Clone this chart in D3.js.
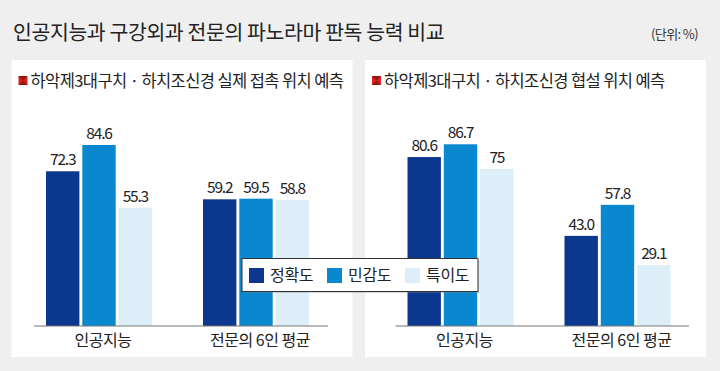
<!DOCTYPE html>
<html>
<head>
<meta charset="utf-8">
<script src="https://cdn.jsdelivr.net/npm/d3@7"></script>
<style>
  html, body { margin: 0; padding: 0; background: #efefef; }
  svg { display: block; font-family: "Noto Sans CJK KR", "Noto Sans", sans-serif; }
</style>
</head>
<body>
<svg id="chart" width="720" height="371"></svg>
<script>
// chart data
const TITLE = "인공지능과 구강외과 전문의 파노라마 판독 능력 비교";
const UNIT = "(단위: %)";
const categories = ["인공지능", "전문의 6인 평균"];
const series = ["정확도", "민감도", "특이도"];
const colors = ["#0b378f", "#0a88cf", "#ddeef9"];
const panelTitles = [
  "하악제3대구치 · 하치조신경 실제 접촉 위치 예측",
  "하악제3대구치 · 하치조신경 협설 위치 예측"
];
// values[category][series]
const contactValues = [[72.3, 84.6, 55.3], [59.2, 59.5, 58.8]];
const contactLabels = [["72.3", "84.6", "55.3"], ["59.2", "59.5", "58.8"]];
const sideValues = [[80.6, 86.7, 75], [43.0, 57.8, 29.1]];
const sideLabels = [["80.6", "86.7", "75"], ["43.0", "57.8", "29.1"]];

const svg = d3.select("#chart");
const BASE_Y = 326;

svg.append("text")
  .attr("x", 13).attr("y", 40)
  .attr("font-size", 20.5).attr("fill", "#222")
  .attr("letter-spacing", -0.4)
  .text(TITLE);

svg.append("text")
  .attr("x", 698).attr("y", 38.5)
  .attr("text-anchor", "end")
  .attr("font-size", 13).attr("fill", "#333")
  .attr("letter-spacing", -0.6)
  .text(UNIT);

let drawPanel = function(px, pw, axisX0, axisX1, pxPerUnit, title, values, labels){
  let g = svg.append("g");
  g.append("rect")
    .attr("x", px).attr("y", 60)
    .attr("width", pw).attr("height", 297)
    .attr("fill", "#fff");

  // red marker icon
  let ix = px + 7, iy = 76, s = 9;
  g.append("rect").attr("x", ix).attr("y", iy).attr("width", s).attr("height", s).attr("fill", "#d9231d");
  g.append("path")
    .attr("d", `M${ix},${iy} L${ix+s},${iy} L${ix+s/2},${iy+s/2} Z M${ix},${iy+s} L${ix+s},${iy+s} L${ix+s/2},${iy+s/2} Z`)
    .attr("fill", "#7a1410").attr("opacity", 0.75);

  g.append("text")
    .attr("x", px + 19).attr("y", 87)
    .attr("font-size", 16.5).attr("fill", "#222")
    .attr("letter-spacing", -0.6)
    .text(title);

  let x0 = d3.scalePoint().domain(categories).range([axisX0 + 65, axisX0 + 222]);
  let x1 = d3.scaleBand().domain(series).range([-53, 53]).paddingInner(0.08);
  let y = d3.scaleLinear().domain([0, 100]).range([BASE_Y, BASE_Y - 100 * pxPerUnit]);

  categories.forEach(function(cat, ci){
    let cg = g.append("g").attr("transform", `translate(${x0(cat)},0)`);
    cg.selectAll("rect.bar")
      .data(series)
      .join("rect")
      .attr("class", "bar")
      .attr("x", d => x1(d))
      .attr("width", x1.bandwidth())
      .attr("y", (d, i) => y(values[ci][i]))
      .attr("height", (d, i) => y(0) - y(values[ci][i]))
      .attr("fill", (d, i) => colors[i]);
    cg.selectAll("text.val")
      .data(series)
      .join("text")
      .attr("class", "val")
      .attr("x", d => x1(d) + x1.bandwidth() / 2)
      .attr("y", (d, i) => y(values[ci][i]) - 6)
      .attr("text-anchor", "middle")
      .attr("font-size", 15.5).attr("fill", "#222")
      .attr("letter-spacing", -1.2)
      .text((d, i) => labels[ci][i]);
  });

  g.append("line")
    .attr("x1", axisX0).attr("x2", axisX1)
    .attr("y1", BASE_Y).attr("y2", BASE_Y)
    .attr("stroke", "#777").attr("stroke-width", 1.2);

  g.selectAll("text.cat")
    .data(categories)
    .join("text")
    .attr("class", "cat")
    .attr("x", d => x0(d) + 4)
    .attr("y", 346)
    .attr("text-anchor", "middle")
    .attr("font-size", 16).attr("fill", "#222")
    .attr("letter-spacing", -0.5)
    .text(d => d);
};

drawPanel(11.5, 341, 34, 328, 2.14, panelTitles[0], contactValues, contactLabels);
drawPanel(365, 341, 395.5, 689, 2.096, panelTitles[1], sideValues, sideLabels);

// legend
let lg = svg.append("g").attr("transform", "translate(242,258.5)");
lg.append("rect")
  .attr("x", 1.5).attr("y", 1.5).attr("width", 236).attr("height", 33)
  .attr("fill", "#888").attr("opacity", 0.35);
lg.append("rect")
  .attr("x", 0).attr("y", 0).attr("width", 236).attr("height", 33)
  .attr("fill", "#fff").attr("stroke", "#333").attr("stroke-width", 1);
const legendX = [7, 85, 163];
series.forEach(function(name, i){
  lg.append("rect")
    .attr("x", legendX[i]).attr("y", 9.5)
    .attr("width", 15).attr("height", 15)
    .attr("fill", colors[i]);
  lg.append("text")
    .attr("x", legendX[i] + 21).attr("y", 22.5)
    .attr("font-size", 16).attr("fill", "#222")
    .attr("letter-spacing", -0.3)
    .text(name);
});
</script>
</body>
</html>
